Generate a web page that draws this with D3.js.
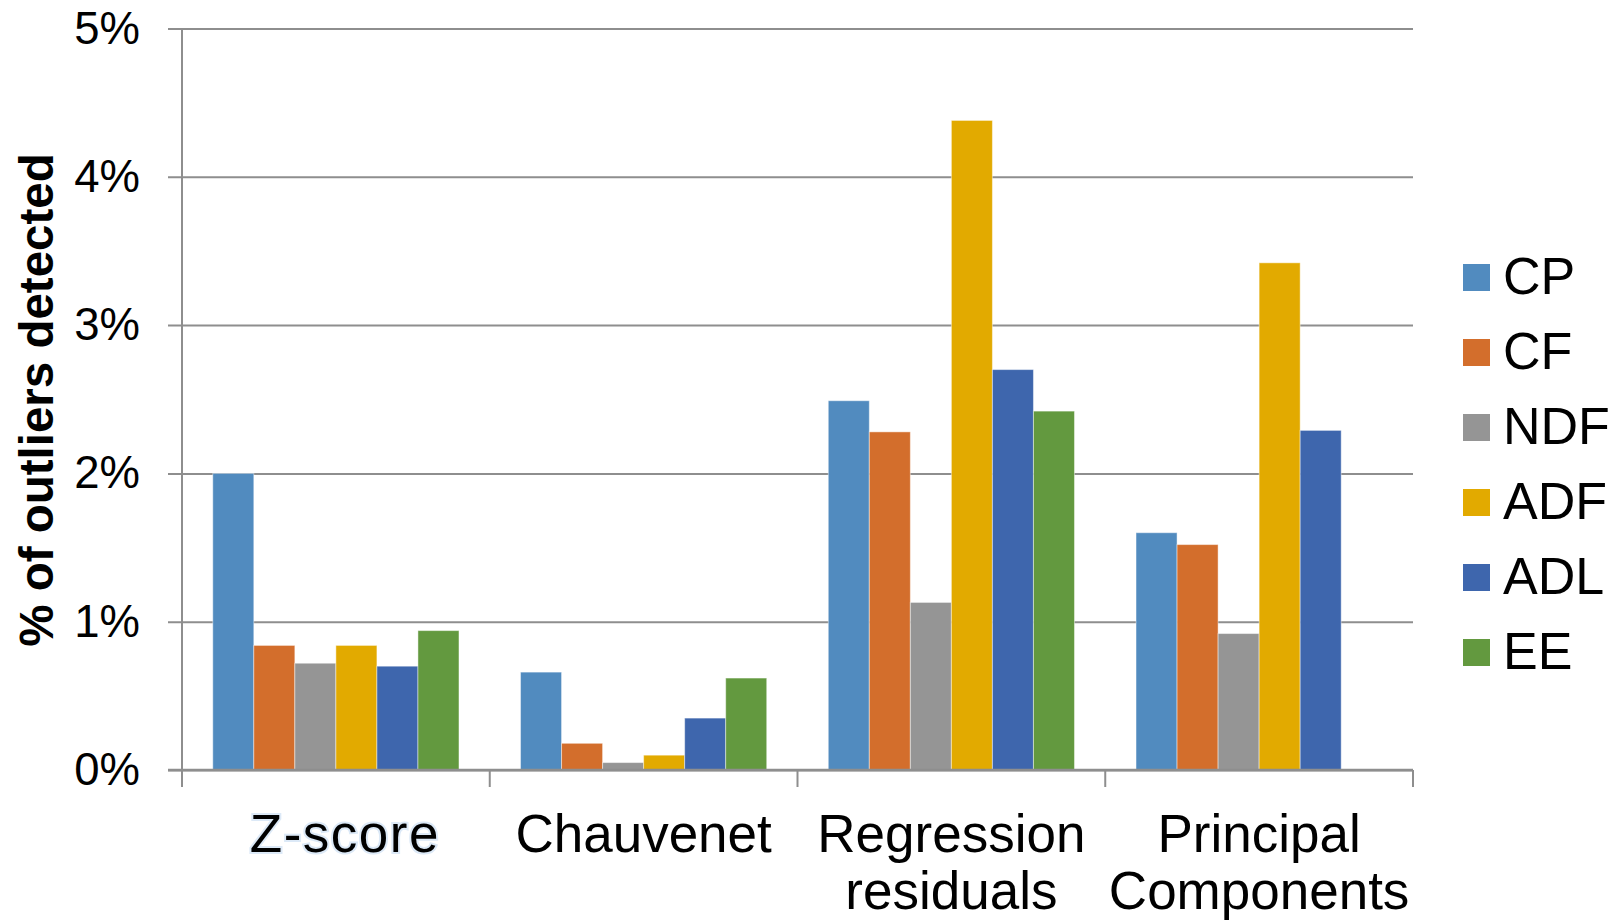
<!DOCTYPE html>
<html>
<head>
<meta charset="utf-8">
<script src="https://cdn.jsdelivr.net/npm/d3@7/dist/d3.min.js"></script>
<style>
  html, body { margin: 0; padding: 0; background: #ffffff; }
  svg { display: block; font-family: "Liberation Sans", Arial, sans-serif; }
</style>
</head>
<body>
<svg id="chart" width="1623" height="920"></svg>
<script>
// ---- data ----
const categories = [["Z-score"], ["Chauvenet"], ["Regression", "residuals"], ["Principal", "Components"]];
const categoryKeys = ["Z-score", "Chauvenet", "Regression residuals", "Principal Components"];
const seriesNames = ["CP", "CF", "NDF", "ADF", "ADL", "EE"];
const seriesColors = ["#518bbf", "#d36e2c", "#959595", "#e2aa00", "#3e66ad", "#63993f"];
const CP  = [0.0200, 0.0066, 0.0249, 0.0160];
const CF  = [0.0084, 0.0018, 0.0228, 0.0152];
const NDF = [0.0072, 0.0005, 0.0113, 0.0092];
const ADF = [0.0084, 0.0010, 0.0438, 0.0342];
const ADL = [0.0070, 0.0035, 0.0270, 0.0229];
const EE  = [0.0094, 0.0062, 0.0242, null];
const seriesValues = [CP, CF, NDF, ADF, ADL, EE];
const yTicks = [0, 0.01, 0.02, 0.03, 0.04, 0.05];
const yTitle = "% of outliers detected";

(function () {
// ---- layout ----
const svg = d3.select("#chart");
const pLeft = 182, pRight = 1413, pTop = 28.5, pBottom = 770;
const gridColor = "#8e8e8e";

const y = d3.scaleLinear().domain([0, 0.05]).range([pBottom, pTop]);
const x0 = d3.scaleBand().domain(categoryKeys).range([pLeft, pRight]).paddingInner(0.2).paddingOuter(0.1);
const x1 = d3.scaleBand().domain(seriesNames).range([0, x0.bandwidth()]);

// gridlines + y axis ticks
const yAxis = d3.axisLeft(y).tickValues(yTicks).tickSize(-(pRight - pLeft)).tickFormat(d3.format(".0%"));
const gy = svg.append("g").attr("transform", `translate(${pLeft},0)`).call(yAxis);
gy.select(".domain").remove();
gy.selectAll(".tick line").attr("x1", -14).attr("stroke", gridColor).attr("stroke-width", 2);
gy.selectAll(".tick text").attr("font-size", 45.5).attr("fill", "#000")
  .attr("font-family", "Liberation Sans, Arial, sans-serif").attr("x", -42);

// bars
const groups = svg.append("g").selectAll("g")
  .data(categoryKeys).join("g")
  .attr("transform", d => `translate(${x0(d)},0)`);
groups.selectAll("rect")
  .data((d, i) => seriesNames.map((s, j) => ({ s, j, v: seriesValues[j][i] })).filter(e => e.v != null))
  .join("rect")
  .attr("x", d => x1(d.s))
  .attr("width", x1.bandwidth())
  .attr("y", d => y(d.v))
  .attr("height", d => y(0) - y(d.v))
  .attr("fill", d => seriesColors[d.j])
  .attr("stroke", "rgba(255,255,255,0.45)")
  .attr("stroke-width", 1);

// y axis line
svg.append("line").attr("x1", pLeft).attr("x2", pLeft).attr("y1", pTop).attr("y2", pBottom + 17)
  .attr("stroke", gridColor).attr("stroke-width", 2);

// x axis baseline & category boundary ticks
svg.append("line").attr("x1", pLeft - 14).attr("x2", pRight).attr("y1", pBottom).attr("y2", pBottom)
  .attr("stroke", gridColor).attr("stroke-width", 2.5);
const boundaries = categoryKeys.map(c => x0(c) - x0.step() * 0.1).concat([pRight]);
svg.append("g").selectAll("line").data(boundaries.slice(1)).join("line")
  .attr("x1", d => d).attr("x2", d => d).attr("y1", pBottom).attr("y2", pBottom + 17)
  .attr("stroke", gridColor).attr("stroke-width", 2);

// x category labels
const xl = svg.append("g").selectAll("text").data(categories).join("text")
  .attr("y", 852)
  .attr("text-anchor", "middle")
  .attr("font-size", 53)
  .attr("fill", "#000");
xl.each(function(d, i) {
  const t = d3.select(this);
  const cx = x0(categoryKeys[i]) + x0.bandwidth() / 2 + (i === 0 ? 9 : 0);
  d.forEach((line, k) => {
    t.append("tspan").attr("x", cx).attr("dy", k === 0 ? 0 : 57).text(line);
  });
  if (i === 0) {
    t.attr("stroke", "#dce9f7").attr("stroke-width", 4).attr("paint-order", "stroke")
     .attr("letter-spacing", 1.5);
  }
});

// y title
svg.append("text")
  .attr("transform", "translate(53,400) rotate(-90)")
  .attr("text-anchor", "middle")
  .attr("font-size", 47.5)
  .attr("font-weight", "bold")
  .attr("fill", "#000")
  .text(yTitle);

// legend
const lg = svg.append("g").selectAll("g").data(seriesNames).join("g")
  .attr("transform", (d, i) => `translate(1463,${264 + i * 75})`);
lg.append("rect").attr("width", 27).attr("height", 27).attr("fill", (d, i) => seriesColors[i]);
lg.append("text").attr("x", 40).attr("y", 30).attr("font-size", 52).attr("fill", "#000").text(d => d);
})();
</script>
</body>
</html>
